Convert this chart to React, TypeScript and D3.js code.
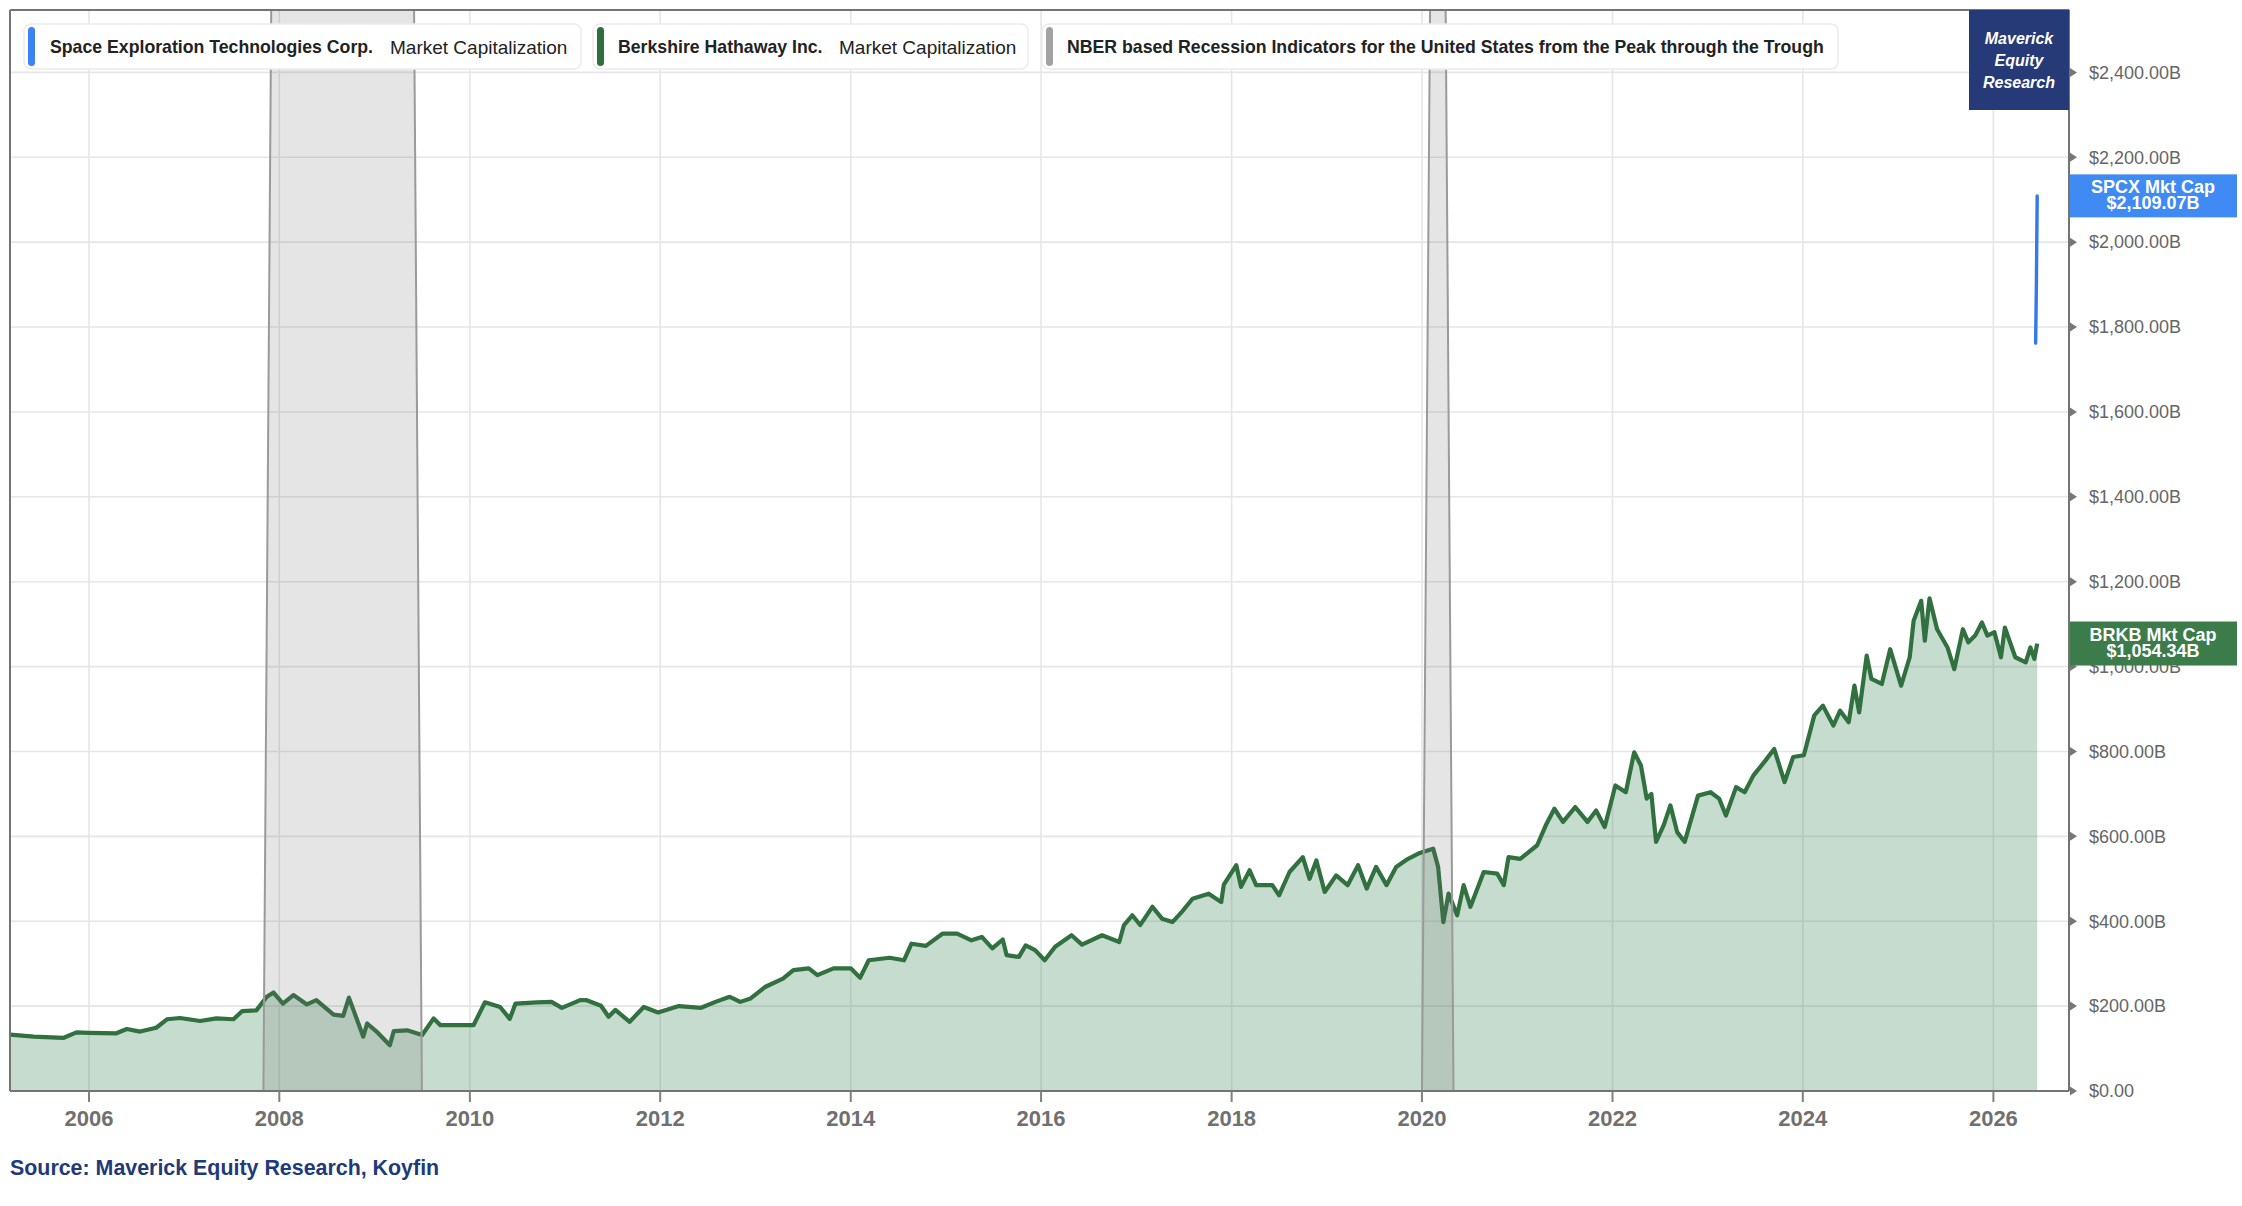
import * as d3 from "d3";

// Berkshire Hathaway market cap, $B
const brkDates = [
  "2005-03-04", "2005-06-03", "2005-09-24", "2005-11-14", "2006-01-01", "2006-04-16", "2006-05-26", "2006-07-16",
  "2006-09-16", "2006-10-27", "2006-12-16", "2007-03-03", "2007-05-05", "2007-07-09", "2007-08-11", "2007-10-05",
  "2007-11-14", "2007-12-10", "2008-01-15", "2008-02-24", "2008-04-16", "2008-05-22", "2008-07-27", "2008-09-02",
  "2008-09-24", "2008-10-12", "2008-11-18", "2008-12-03", "2009-01-08", "2009-02-28", "2009-03-15", "2009-05-05",
  "2009-07-02", "2009-08-15", "2009-09-10", "2009-12-20", "2010-01-15", "2010-02-28", "2010-04-27", "2010-06-03",
  "2010-06-25", "2010-09-16", "2010-11-10", "2010-12-20", "2011-02-28", "2011-03-25", "2011-05-19", "2011-06-17",
  "2011-07-13", "2011-09-06", "2011-10-30", "2011-12-24", "2012-03-13", "2012-06-06", "2012-07-31", "2012-09-24",
  "2012-11-03", "2012-12-13", "2013-02-06", "2013-04-16", "2013-05-26", "2013-07-24", "2013-08-26", "2013-10-27",
  "2014-01-01", "2014-02-06", "2014-03-11", "2014-05-30", "2014-07-24", "2014-08-22", "2014-10-16", "2014-12-20",
  "2015-02-13", "2015-04-09", "2015-05-19", "2015-06-28", "2015-08-07", "2015-08-22", "2015-10-08", "2015-11-03",
  "2015-12-09", "2016-01-15", "2016-02-24", "2016-04-27", "2016-06-06", "2016-08-22", "2016-10-27", "2016-11-14",
  "2016-12-16", "2017-01-15", "2017-03-03", "2017-04-09", "2017-05-19", "2017-06-24", "2017-08-04", "2017-10-05",
  "2017-11-22", "2017-12-02", "2018-01-19", "2018-02-06", "2018-03-11", "2018-04-05", "2018-06-06", "2018-07-02",
  "2018-08-11", "2018-10-01", "2018-10-27", "2018-11-22", "2018-12-24", "2019-02-06", "2019-03-22", "2019-05-01",
  "2019-06-03", "2019-07-09", "2019-08-18", "2019-09-24", "2019-11-03", "2019-12-24", "2020-02-13", "2020-03-03",
  "2020-03-23", "2020-04-12", "2020-05-15", "2020-06-09", "2020-07-05", "2020-08-25", "2020-10-16", "2020-11-10",
  "2020-11-28", "2021-01-12", "2021-03-18", "2021-04-20", "2021-05-23", "2021-06-25", "2021-08-11", "2021-09-27",
  "2021-10-30", "2021-12-02", "2022-01-12", "2022-02-21", "2022-03-25", "2022-04-20", "2022-05-12", "2022-05-30",
  "2022-06-17", "2022-07-16", "2022-08-11", "2022-09-06", "2022-10-05", "2022-10-23", "2022-11-25", "2023-01-12",
  "2023-02-14", "2023-03-12", "2023-04-20", "2023-05-23", "2023-06-25", "2023-08-11", "2023-09-13", "2023-10-23",
  "2023-11-25", "2024-01-05", "2024-02-14", "2024-03-18", "2024-04-27", "2024-05-23", "2024-06-25", "2024-07-17",
  "2024-08-04", "2024-09-02", "2024-09-20", "2024-10-30", "2024-12-01", "2025-01-12", "2025-02-14", "2025-03-01",
  "2025-03-30", "2025-04-13", "2025-05-01", "2025-05-30", "2025-07-09", "2025-08-04", "2025-09-06", "2025-09-27",
  "2025-10-23", "2025-11-18", "2025-12-09", "2026-01-05", "2026-01-30", "2026-02-14", "2026-03-26", "2026-05-05",
  "2026-05-23", "2026-06-07", "2026-06-18",
];
const brkValues = [
  133, 128, 125, 138, 137, 136, 146, 140,
  149, 169, 172, 165, 171, 169, 188, 190,
  222, 232, 206, 226, 204, 214, 180, 177,
  220, 190, 128, 159, 140, 108, 141, 143,
  132, 171, 155, 155, 155, 209, 198, 170,
  206, 209, 210, 196, 214, 214, 201, 175,
  191, 163, 198, 185, 200, 196, 210, 222,
  210, 218, 245, 265, 285, 289, 273, 289,
  289, 267, 308, 314, 308, 347, 342, 371,
  371, 355, 363, 336, 357, 320, 316, 343,
  332, 308, 340, 367, 345, 367, 351, 391,
  414, 391, 434, 406, 398, 422, 453, 465,
  445, 486, 532, 481, 520, 485, 485, 461,
  516, 551, 500, 543, 469, 508, 485, 532,
  477, 528, 485, 528, 545, 561, 571, 528,
  398, 465, 414, 485, 434, 516, 512, 485,
  551, 547, 579, 626, 665, 634, 669, 634,
  661, 622, 720, 704, 798, 767, 689, 700,
  587, 626, 673, 610, 587, 626, 696, 704,
  689, 649, 716, 704, 743, 779, 806, 728,
  787, 791, 885, 908, 861, 896, 869, 955,
  892, 1026, 971, 959, 1041, 955, 1022, 1108,
  1155, 1061, 1161, 1088, 1045, 994, 1088, 1057,
  1073, 1104, 1073, 1081, 1022, 1092, 1022, 1010,
  1045, 1018, 1054.34,
];

// Space Exploration Technologies market cap, $B
const spcxDates = ["2026-06-12", "2026-06-15", "2026-06-16", "2026-06-17", "2026-06-18"];
const spcxValues = [1762, 1905, 1980, 2045, 2109.07];

// NBER recession indicator (monthly, 0/1)
const recessionDates = [
  "2007-11-01", "2007-12-01", "2009-06-01", "2009-07-01",
  "2020-01-01", "2020-02-01", "2020-04-01", "2020-05-01",
];
const recessionValues = [0, 1, 1, 0, 0, 1, 1, 0];

const yearTicks = [2006, 2008, 2010, 2012, 2014, 2016, 2018, 2020, 2022, 2024, 2026];
const capTicks = [0, 200, 400, 600, 800, 1000, 1200, 1400, 1600, 1800, 2000, 2200, 2400];

const W = 2242;
const H = 1206;
const plot = { left: 10, right: 2069, top: 10, bottom: 1091 };
const FONT = "'Liberation Sans', Arial, sans-serif";

const parse = d3.timeParse("%Y-%m-%d");

export default function App() {
  const x = d3
    .scaleTime()
    .domain([new Date(2005, 2, 4), new Date(2026, 9, 18)])
    .range([plot.left, plot.right]);
  const y = d3.scaleLinear().domain([0, 2547]).range([plot.bottom, plot.top]);
  const yRec = d3.scaleLinear().domain([0, 1]).range([plot.bottom, plot.top]);

  const brk = brkDates.map((d, i) => ({ date: parse(d)!, value: brkValues[i] }));
  const spcx = spcxDates.map((d, i) => ({ date: parse(d)!, value: spcxValues[i] }));
  const rec = recessionDates.map((d, i) => ({ date: parse(d)!, value: recessionValues[i] }));

  const brkArea = d3
    .area<{ date: Date; value: number }>()
    .x((d) => x(d.date))
    .y0(y(0))
    .y1((d) => y(d.value));
  const brkLine = d3
    .line<{ date: Date; value: number }>()
    .x((d) => x(d.date))
    .y((d) => y(d.value));
  const spcxLine = d3
    .line<{ date: Date; value: number }>()
    .x((d) => x(d.date))
    .y((d) => y(d.value));

  // each recession drawn as its own polygon
  const recGroups = [rec.slice(0, 4), rec.slice(4, 8)];
  const recArea = d3
    .area<{ date: Date; value: number }>()
    .x((d) => x(d.date))
    .y0(yRec(0))
    .y1((d) => yRec(d.value));

  const fmtCap = (v: number) => (v === 0 ? "$0.00" : "$" + d3.format(",.2f")(v) + "B");

  const lastBrk = brk[brk.length - 1];
  const lastSpcx = spcx[spcx.length - 1];

  const legend = [
    { x: 24, w: 557, bar: "#3b82f6", name: "Space Exploration Technologies Corp.", nameX: 50, metric: "Market Capitalization", metricX: 390 },
    { x: 593, w: 435, bar: "#2f6f3e", name: "Berkshire Hathaway Inc.", nameX: 618, metric: "Market Capitalization", metricX: 839 },
    { x: 1042, w: 796, bar: "#a3a3a3", name: "NBER based Recession Indicators for the United States from the Peak through the Trough", nameX: 1067, metric: "", metricX: 0 },
  ];

  return (
    <div>
      <style>{"body{margin:0;background:#fff}"}</style>
      <svg width={W} height={H} style={{ display: "block", fontFamily: FONT }}>
        <rect x={0} y={0} width={W} height={H} fill="#fff" />

        {/* grid */}
        {capTicks.slice(1).map((t) => (
          <line key={"gy" + t} x1={plot.left} x2={plot.right} y1={y(t)} y2={y(t)} stroke="#e6e6e6" strokeWidth={1.6} />
        ))}
        {yearTicks.map((t) => (
          <line
            key={"gx" + t}
            x1={x(new Date(t, 0, 1))}
            x2={x(new Date(t, 0, 1))}
            y1={plot.top}
            y2={plot.bottom}
            stroke="#e6e6e6"
            strokeWidth={1.6}
          />
        ))}

        {/* Berkshire */}
        <path d={brkArea(brk)!} fill="#2e7d4a" fillOpacity={0.27} />
        <path d={brkLine(brk)!} fill="none" stroke="#31703f" strokeWidth={4.2} strokeLinejoin="round" />

        {/* recessions */}
        {recGroups.map((g, i) => (
          <path key={"rec" + i} d={recArea(g)!} fill="#6e6e6e" fillOpacity={0.18} stroke="#9a9a9a" strokeWidth={2} />
        ))}

        {/* SpaceX */}
        <path d={spcxLine(spcx)!} fill="none" stroke="#3479e8" strokeWidth={3.4} strokeLinecap="round" />

        {/* frame */}
        <line x1={plot.left} x2={plot.right} y1={plot.top} y2={plot.top} stroke="#747474" strokeWidth={2} />
        <line x1={plot.left} x2={plot.left} y1={plot.top} y2={plot.bottom} stroke="#747474" strokeWidth={2} />
        <line x1={plot.left} x2={plot.right} y1={plot.bottom} y2={plot.bottom} stroke="#747474" strokeWidth={2} />
        <line x1={plot.right} x2={plot.right} y1={plot.top} y2={plot.bottom} stroke="#747474" strokeWidth={2} />

        {/* x axis */}
        {yearTicks.map((t) => {
          const px = x(new Date(t, 0, 1));
          return (
            <g key={"xt" + t}>
              <line x1={px} x2={px} y1={plot.bottom} y2={plot.bottom + 11} stroke="#808080" strokeWidth={2} />
              <text x={px} y={plot.bottom + 35} textAnchor="middle" fontSize={22} fontWeight={700} fill="#707070">
                {t}
              </text>
            </g>
          );
        })}

        {/* y axis (right) */}
        {capTicks.map((t) => {
          const py = y(t);
          return (
            <g key={"yt" + t}>
              <path d={`M${plot.right + 1},${py - 4.5}L${plot.right + 8},${py}L${plot.right + 1},${py + 4.5}Z`} fill="#777" />
              <text x={2089} y={py} dy="0.35em" fontSize={18} fill="#666">
                {fmtCap(t)}
              </text>
            </g>
          );
        })}

        {/* last value labels */}
        <g>
          <rect x={plot.right + 1} y={y(lastSpcx.value) - 21.5} width={167} height={43} fill="#408bf3" />
          <text x={plot.right + 84} y={y(lastSpcx.value) - 3} textAnchor="middle" fontSize={18} fontWeight={700} fill="#fff">
            SPCX Mkt Cap
          </text>
          <text x={plot.right + 84} y={y(lastSpcx.value) + 13} textAnchor="middle" fontSize={18} fontWeight={700} fill="#fff">
            {"$" + d3.format(",.2f")(lastSpcx.value) + "B"}
          </text>
        </g>
        <g>
          <rect x={plot.right + 1} y={y(lastBrk.value) - 22} width={167} height={44} fill="#3c7c4b" />
          <text x={plot.right + 84} y={y(lastBrk.value) - 3} textAnchor="middle" fontSize={18} fontWeight={700} fill="#fff">
            BRKB Mkt Cap
          </text>
          <text x={plot.right + 84} y={y(lastBrk.value) + 13} textAnchor="middle" fontSize={18} fontWeight={700} fill="#fff">
            {"$" + d3.format(",.2f")(lastBrk.value) + "B"}
          </text>
        </g>

        {/* legend */}
        {legend.map((l) => (
          <g key={l.name}>
            <rect x={l.x} y={24} width={l.w} height={45} rx={7} fill="#fff" stroke="#ebebeb" strokeWidth={1.5} />
            <rect x={l.x + 4} y={27} width={7} height={39} rx={3.5} fill={l.bar} />
            <text x={l.nameX} y={47} dy="0.35em" fontSize={17.7} fontWeight={700} fill="#222">
              {l.name}
            </text>
            {l.metric && (
              <text x={l.metricX} y={47} dy="0.35em" fontSize={19} fill="#222">
                {l.metric}
              </text>
            )}
          </g>
        ))}

        {/* brand box */}
        <rect x={1969} y={plot.top} width={plot.right - 1969} height={100} fill="#263a78" />
        {["Maverick", "Equity", "Research"].map((s, i) => (
          <text
            key={s}
            x={2019}
            y={38 + i * 22}
            dy="0.35em"
            textAnchor="middle"
            fontSize={16}
            fontWeight={700}
            fontStyle="italic"
            fill="#fff"
          >
            {s}
          </text>
        ))}

        <text x={10} y={1175} fontSize={21.4} fontWeight={700} fill="#1e3a78">
          Source: Maverick Equity Research, Koyfin
        </text>
      </svg>
    </div>
  );
}
